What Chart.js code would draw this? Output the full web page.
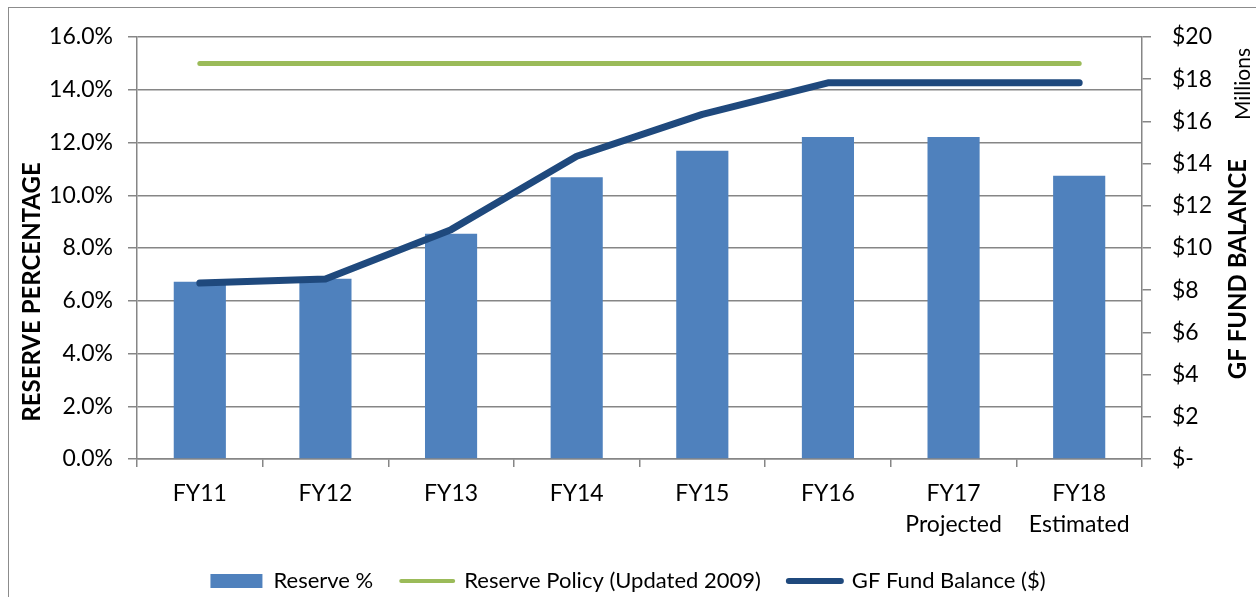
<!DOCTYPE html>
<html>
<head>
<meta charset="utf-8">
<title>Reserve Percentage and GF Fund Balance</title>
<script src="https://cdn.jsdelivr.net/npm/chart.js@4.4.1/dist/chart.umd.min.js"></script>
<style>
    html, body { margin: 0; padding: 0; background: #fff; overflow: hidden; }
    #wrap { position: relative; width: 1256px; height: 602px; }
    #frame {
        position: absolute; left: 8px; top: 7px; width: 1300px; height: 700px;
        border: 1px solid #8c8c8c; box-sizing: border-box;
    }
    #chart { position: absolute; left: 0; top: 0; }
</style>
</head>
<body>
<div id="wrap">
    <div id="frame"></div>
    <canvas id="chart"></canvas>
</div>
<script>
// Values
const categories = ["FY11", "FY12", "FY13", "FY14", "FY15", "FY16", ["FY17", "Projected"], ["FY18", "Estimated"]];
const reservePct = [6.72, 6.83, 8.54, 10.68, 11.69, 12.21, 12.21, 10.74];   // Reserve %
const policyPct = [15, 15, 15, 15, 15, 15, 15, 15];                          // Reserve Policy (Updated 2009)
const fundBalance = [8.34, 8.53, 10.87, 14.35, 16.33, 17.83, 17.83, 17.83];  // GF Fund Balance, $ millions

const pctTicks = { min: 0, max: 16, step: 2 };
const dollarTicks = { min: 0, max: 20, step: 2 };

const GRID = "#868686";
const FONT = "Lato, 'Open Sans', sans-serif";

// Axis titles are placed by hand: the right-hand ones read bottom-to-top like Excel does
const axisTitles = {
    id: "axisTitles",
    afterDraw(chart) {
        const { ctx } = chart;
        const put = (text, x, y, font) => {
            ctx.save();
            ctx.translate(x, y);
            ctx.rotate(-Math.PI / 2);
            ctx.font = font;
            ctx.fillStyle = "#000";
            ctx.textAlign = "center";
            ctx.textBaseline = "middle";
            ctx.fillText(text, 0, 0);
            ctx.restore();
        };
        put("RESERVE PERCENTAGE", 32, 292, "bold 24px " + FONT);
        put("GF FUND BALANCE", 1238, 269, "bold 24px " + FONT);
        put("Millions", 1243, 84, "21px " + FONT);
    }
};

const ctx = document.getElementById("chart").getContext("2d");

new Chart(ctx, {
    data: {
        labels: categories,
        datasets: [
            {
                type: "bar",
                label: "Reserve %",
                data: reservePct,
                yAxisID: "y",
                backgroundColor: "#4F81BD",
                borderWidth: 0,
                categoryPercentage: 1,
                barPercentage: 0.415,
                order: 3
            },
            {
                type: "line",
                label: "Reserve Policy (Updated 2009)",
                data: policyPct,
                yAxisID: "y",
                borderColor: "#9BBB59",
                backgroundColor: "#9BBB59",
                borderWidth: 5,
                borderCapStyle: "round",
                pointRadius: 0,
                tension: 0,
                order: 2
            },
            {
                type: "line",
                label: "GF Fund Balance ($)",
                data: fundBalance,
                yAxisID: "y1",
                borderColor: "#1F497D",
                backgroundColor: "#1F497D",
                borderWidth: 7,
                borderCapStyle: "round",
                borderJoinStyle: "round",
                pointRadius: 0,
                tension: 0,
                order: 1
            }
        ]
    },
    options: {
        responsive: true,
        maintainAspectRatio: false,
        animation: false,
        layout: { padding: { top: 37, left: 0, right: 0, bottom: 0 } },
        scales: {
            x: {
                // tall enough that the second label line is not clipped
                afterFit: (s) => { s.height = 83; },
                grid: {
                    offset: true,
                    drawOnChartArea: false,
                    drawTicks: true,
                    tickLength: 8,
                    color: GRID,
                    lineWidth: 1.5
                },
                border: { display: true, color: GRID, width: 1.5 },
                ticks: {
                    color: "#000",
                    padding: 11,
                    maxRotation: 0,
                    autoSkip: false,
                    font: { family: FONT, size: 23, lineHeight: 1.36 }
                }
            },
            y: {
                position: "left",
                min: pctTicks.min,
                max: pctTicks.max,
                afterFit: (s) => { s.width = 137; },
                grid: { color: GRID, lineWidth: 1.5, tickLength: 9 },
                border: { display: true, color: GRID, width: 1.5 },
                ticks: {
                    stepSize: pctTicks.step,
                    color: "#000",
                    padding: 15,
                    font: { family: FONT, size: 23 },
                    callback: (v) => v.toFixed(1) + "%"
                }
            },
            y1: {
                position: "right",
                min: dollarTicks.min,
                max: dollarTicks.max,
                afterFit: (s) => { s.width = 114; },
                grid: { drawOnChartArea: false, color: GRID, lineWidth: 1.5, tickLength: 9 },
                border: { display: true, color: GRID, width: 1.5 },
                ticks: {
                    stepSize: dollarTicks.step,
                    color: "#000",
                    padding: 21,
                    font: { family: FONT, size: 23 },
                    callback: (v) => (v === 0 ? "$-" : "$" + v)
                }
            }
        },
        plugins: {
            tooltip: { enabled: false },
            legend: {
                position: "bottom",
                labels: {
                    color: "#000",
                    font: { family: FONT, size: 22 },
                    usePointStyle: true,
                    pointStyleWidth: 52,
                    boxHeight: 14,
                    padding: 28,
                    sort: (a, b) => a.datasetIndex - b.datasetIndex,
                    generateLabels(chart) {
                        const items = Chart.defaults.plugins.legend.labels.generateLabels(chart);
                        items.forEach((item) => {
                            const ds = chart.data.datasets[item.datasetIndex];
                            if (ds.type === "line") {
                                item.pointStyle = "line";
                                item.strokeStyle = ds.borderColor;
                                item.lineWidth = ds.borderWidth - 1;
                                item.lineCap = "round";
                            } else {
                                item.pointStyle = "rect";
                                item.fillStyle = ds.backgroundColor;
                                item.lineWidth = 0;
                            }
                        });
                        return items;
                    }
                }
            }
        }
    },
    plugins: [axisTitles]
});
</script>
</body>
</html>
